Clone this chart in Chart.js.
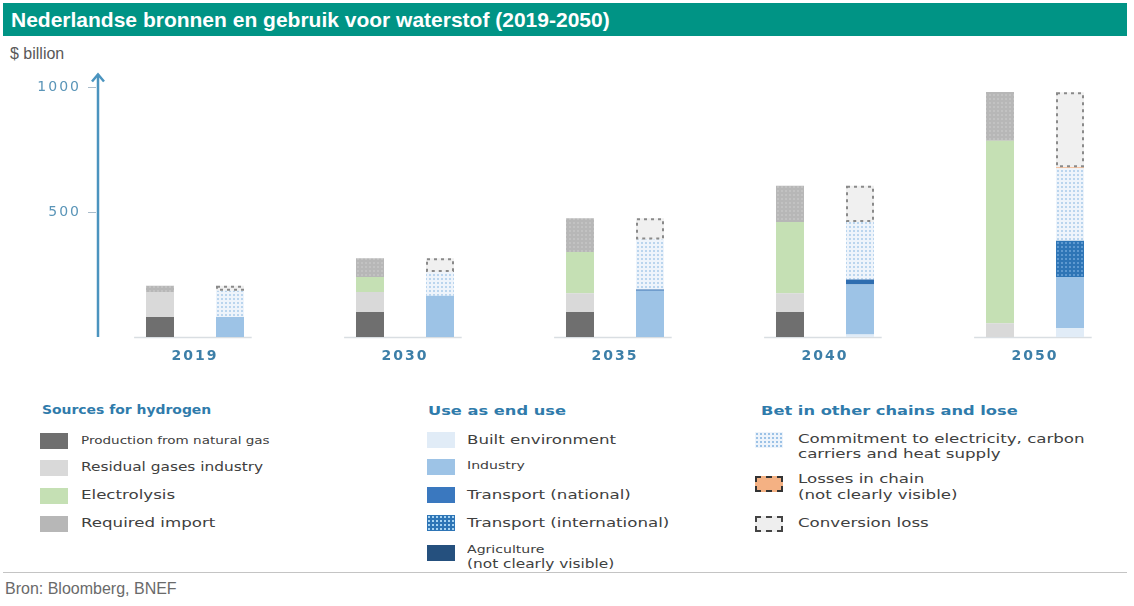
<!DOCTYPE html>
<html>
<head>
<meta charset="utf-8">
<script src="https://cdn.jsdelivr.net/npm/chart.js@4.4.1/dist/chart.umd.min.js"></script>
<style>
  body { margin: 0; width: 1134px; height: 606px; overflow: hidden; background: #fff; font-family: "DejaVu Sans", sans-serif; position: relative; }
  #titel { position: absolute; left: 3px; top: 3px; width: 1124px; height: 33px; background: #009485; color: #fff;
    font: bold 21px "Liberation Sans", Arial, sans-serif; line-height: 33px; padding-left: 8px; box-sizing: border-box; }
  #eenheid { position: absolute; left: 10px; top: 45px; font: 16px "Liberation Sans", Arial, sans-serif; color: #595959; }
  #grafiek { position: absolute; left: 0; top: 57px; }
  .kop { position: absolute; font: bold 13px "DejaVu Sans", sans-serif; color: #2f7bab; transform: scaleX(1.25); transform-origin: 0 0; }
  .vak { position: absolute; width: 28px; height: 16px; box-sizing: border-box; }
  .tekst { position: absolute; font: 13px "DejaVu Sans", sans-serif; color: #404040; line-height: 15px; white-space: nowrap;
    transform: scaleX(1.28); transform-origin: 0 0; }
  #lijn { position: absolute; left: 3px; top: 572px; width: 1124px; height: 1px; background: #c4c4c4; }
  #bron { position: absolute; left: 5px; top: 580px; font: 16px "Liberation Sans", Arial, sans-serif; color: #6a6a6a; }
</style>
</head>
<body>
<div id="titel">Nederlandse bronnen en gebruik voor waterstof (2019-2050)</div>
<div id="eenheid">$ billion</div>
<canvas id="grafiek" width="1150" height="310"></canvas>

<!-- legenda: bronnen -->
<div class="kop" style="left:42px;top:403px;font-size:12px;transform:scaleX(1.16)">Sources for hydrogen</div>
<div class="vak" style="left:40px;top:433px;background:#6f6f6f"></div>
<div class="tekst" style="left:81px;top:433px;font-size:11px;transform:scaleX(1.23)">Production from natural gas</div>
<div class="vak" style="left:40px;top:460px;background:#d9d9d9"></div>
<div class="tekst" style="left:81px;top:460px;font-size:12px">Residual gases industry</div>
<div class="vak" style="left:40px;top:488px;background:#c5e0b4"></div>
<div class="tekst" style="left:81px;top:487px">Electrolysis</div>
<div class="vak" style="left:40px;top:516px;background:#b7b7b7"></div>
<div class="tekst" style="left:81px;top:515px">Required import</div>

<!-- legenda: eindgebruik -->
<div class="kop" style="left:428px;top:403px">Use as end use</div>
<div class="vak" style="left:427px;top:432px;background:#e1ecf7"></div>
<div class="tekst" style="left:467px;top:432px">Built environment</div>
<div class="vak" style="left:427px;top:459px;background:#9dc3e6"></div>
<div class="tekst" style="left:467px;top:458px;font-size:11px">Industry</div>
<div class="vak" style="left:427px;top:487px;background:#3a78bf"></div>
<div class="tekst" style="left:467px;top:487px">Transport (national)</div>
<div class="vak" style="left:427px;top:515px;background-color:#2e75b6;background-image:radial-gradient(#a8d4f2 1px, transparent 1.4px);background-size:4px 4px"></div>
<div class="tekst" style="left:467px;top:515px">Transport (international)</div>
<div class="vak" style="left:427px;top:545px;background:#25507e"></div>
<div class="tekst" style="left:467px;top:542px;font-size:11px">Agriculture</div>
<div class="tekst" style="left:467px;top:557px;font-size:12px">(not clearly visible)</div>

<!-- legenda: andere ketens -->
<div class="kop" style="left:761px;top:403px">Bet in other chains and lose</div>
<div class="vak" style="left:755px;top:432px;background-color:#eef4fb;background-image:radial-gradient(#9cc2e6 1px, transparent 1.4px);background-size:4px 4px"></div>
<div class="tekst" style="left:798px;top:431px">Commitment to electricity, carbon</div>
<div class="tekst" style="left:798px;top:446px">carriers and heat supply</div>
<div class="vak" style="left:755px;top:476px;background:#f4b183;border:2px dashed #333"></div>
<div class="tekst" style="left:798px;top:471px">Losses in chain</div>
<div class="tekst" style="left:798px;top:487px">(not clearly visible)</div>
<div class="vak" style="left:755px;top:516px;background:#eeeeee;border:2px dashed #444"></div>
<div class="tekst" style="left:798px;top:515px">Conversion loss</div>

<div id="lijn"></div>
<div id="bron">Bron: Bloomberg, BNEF</div>

<script>
// DATA ($ billion)
const jaren = ["2019", "2030", "2035", "2040", "2050"];
const yTicks = [500, 1000];
// bronnen
const productieAardgas = [80, 100, 100, 100, 0];
const restgassen = [100, 80, 75, 75, 55];
const elektrolyse = [0, 60, 165, 285, 730];
const importNodig = [25, 75, 135, 145, 195];
// eindgebruik
const gebouwdeOmgeving = [0, 0, 0, 10, 35];
const industrie = [80, 165, 185, 200, 205];
const transportNat = [0, 0, 5, 20, 0];
const transportInt = [0, 0, 0, 0, 145];
const landbouw = [0, 0, 0, 0, 0];
// andere ketens en verlies
const inzet = [105, 95, 200, 230, 290];
const verliesKeten = [0, 0, 0, 0, 4];
const conversieVerlies = [20, 55, 85, 145, 300];

//patroon met stippen voor de balken
function maakPatroon(achtergrond, stip, maat) {
	const c = document.createElement("canvas");
	c.width = maat; c.height = maat;
	const g = c.getContext("2d");
	g.fillStyle = achtergrond;
	g.fillRect(0, 0, maat, maat);
	g.fillStyle = stip;
	g.beginPath();
	g.arc(maat / 2, maat / 2, 1, 0, Math.PI * 2);
	g.fill();
	return g.createPattern(c, "repeat");
}

const ctx = document.getElementById("grafiek").getContext("2d");
const patroonImport = maakPatroon("#b7b7b7", "#c6c6c6", 4);
const patroonInzet = maakPatroon("#eef4fb", "#a9cbea", 4);
const patroonTransport = maakPatroon("#2e75b6", "#6fa6d8", 4);

function reeks(label, data, kleur, stapel) {
	return { label: label, data: data, backgroundColor: kleur, stack: stapel, borderWidth: 0 };
}

//Plugin: y-as met pijl, streepjes en korte basislijnen per jaar, gestippelde randen
const versiering = {
	id: "versiering",
	beforeDraw(chart) {
		//breder letterbeeld zoals in het origineel
		chart.ctx.letterSpacing = "2px";
	},
	beforeDatasetsDraw(chart) {
		const c = chart.ctx, x = chart.scales.x, y = chart.scales.y;
		const bodem = y.getPixelForValue(0);
		c.save();
		c.strokeStyle = "#d9dee2";
		c.lineWidth = 1.5;
		jaren.forEach((j, i) => {
			const midden = x.getPixelForValue(i);
			const w = x.width / jaren.length;
			c.beginPath();
			c.moveTo(midden - w * 0.29, bodem + 0.5);
			c.lineTo(midden + w * 0.27, bodem + 0.5);
			c.stroke();
		});
		//pijl
		const ax = chart.chartArea.left + 8;
		c.strokeStyle = "#4b94bf";
		c.lineWidth = 2.5;
		c.beginPath();
		c.moveTo(ax, bodem);
		c.lineTo(ax, chart.chartArea.top);
		c.stroke();
		c.beginPath();
		c.moveTo(ax - 6, chart.chartArea.top + 7);
		c.lineTo(ax, chart.chartArea.top);
		c.lineTo(ax + 6, chart.chartArea.top + 7);
		c.stroke();
		c.strokeStyle = "#a9bccb";
		c.lineWidth = 1;
		yTicks.forEach((t) => {
			const py = Math.round(y.getPixelForValue(t)) + 0.5;
			c.beginPath();
			c.moveTo(ax - 10, py);
			c.lineTo(ax - 2, py);
			c.stroke();
		});
		c.restore();
	},
	afterDatasetsDraw(chart) {
		const c = chart.ctx;
		chart.data.datasets.forEach((ds, i) => {
			if (!ds.stippelRand) return;
			chart.getDatasetMeta(i).data.forEach((bar, k) => {
				if (!ds.data[k]) return;
				const links = bar.x - bar.width / 2;
				c.save();
				c.strokeStyle = ds.stippelRand;
				c.lineWidth = 2;
				c.setLineDash([3, 4]);
				c.strokeRect(links + 1, bar.y + 1, bar.width - 2, bar.base - bar.y - 2);
				c.restore();
			});
		});
	}
};

const config = {
	type: "bar",
	data: {
		labels: jaren,
		datasets: [
			reeks("Production from natural gas", productieAardgas, "#6f6f6f", "bron"),
			reeks("Residual gases industry", restgassen, "#d9d9d9", "bron"),
			reeks("Electrolysis", elektrolyse, "#c5e0b4", "bron"),
			reeks("Required import", importNodig, patroonImport, "bron"),
			reeks("Built environment", gebouwdeOmgeving, "#e1ecf7", "gebruik"),
			reeks("Industry", industrie, "#9dc3e6", "gebruik"),
			reeks("Transport (national)", transportNat, "#2e6db0", "gebruik"),
			reeks("Transport (international)", transportInt, patroonTransport, "gebruik"),
			reeks("Agriculture", landbouw, "#25507e", "gebruik"),
			reeks("Commitment to electricity, carbon carriers and heat supply", inzet, patroonInzet, "gebruik"),
			reeks("Losses in chain", verliesKeten, "#f4b183", "gebruik"),
			Object.assign(reeks("Conversion loss", conversieVerlies, "#f0f0f0", "gebruik"), { stippelRand: "#8a8a8a" })
		]
	},
	options: {
		responsive: false,
		animation: false,
		layout: { padding: { top: 17.5, right: 10, left: 0, bottom: 0 } },
		datasets: { bar: { categoryPercentage: 0.6667, barPercentage: 0.4 } },
		plugins: { legend: { display: false }, tooltip: { enabled: false } },
		scales: {
			x: {
				stacked: true,
				grid: { display: false },
				border: { display: false },
				ticks: { color: "#3d7fa8", font: { family: "DejaVu Sans", size: 14, weight: "bold" }, padding: 3 },
				afterFit: (s) => { s.height = 30; }
			},
			y: {
				stacked: true,
				min: 0,
				max: 1050,
				grid: { display: false },
				border: { display: false },
				ticks: { color: "#5a95b8", font: { family: "DejaVu Sans", size: 14 }, padding: 1, callback: (v) => String(v) },
				afterBuildTicks: (s) => { s.ticks = yTicks.map((v) => ({ value: v })); },
				afterFit: (s) => { s.width = 90; }
			}
		}
	},
	plugins: [versiering]
};

const grafiek = new Chart(ctx, config);
</script>
</body>
</html>
